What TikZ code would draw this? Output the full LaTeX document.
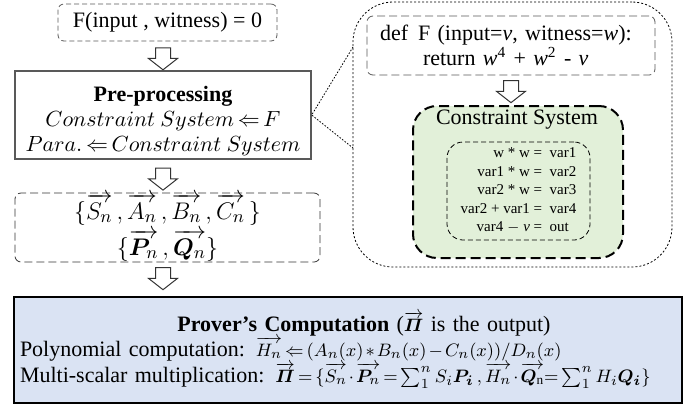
\documentclass[tikz,border=0pt]{standalone}
\usepackage{amsmath,amssymb,bm}
\usepackage{fontspec}
\setmainfont{Liberation Serif}
\usetikzlibrary{shapes.arrows,calc}
\definecolor{boxgray}{HTML}{595959}
\definecolor{csgreen}{HTML}{E2F0D9}
\definecolor{provblue}{HTML}{DAE3F3}
\thickmuskip=3mu plus 1mu
\medmuskip=2mu plus 1mu
\newcommand{\fm}[2][9.5]{{\fontsize{#1}{11}\selectfont$#2$}}
\newcommand{\tightlines}{\lineskiplimit-8pt\relax}

\begin{document}
\begin{tikzpicture}[x=.5pt,y=-.5pt,
  every node/.style={font=\fontsize{11}{12.5}\selectfont},
  dashbox/.style={draw=boxgray,rounded corners=3pt,dash pattern=on 2.5pt off 1.5pt,inner sep=0pt},
  longdash/.style={dash pattern=on 4pt off 2pt},
  hollow/.style={single arrow,draw=black!80,fill=white,shape border rotate=270,inner sep=3.5pt,
    minimum height=11pt,single arrow head extend=3.5pt,single arrow tip angle=104,line width=.5pt}]
\useasboundingbox (0,0) rectangle (697,409);
\node[dashbox,minimum width=109.5pt,minimum height=18.5pt] (fx) at (167.5,22.5) {F(input , witness) = 0};
\node[draw=boxgray,line width=.7pt,minimum width=148pt,minimum height=44pt,align=center,inner sep=0pt] (pre) at (163,115)
  {\rule{0pt}{14pt}\textbf{Pre-processing}\\ \fm[10.5]{Constraint\ System \Leftarrow F}\\ \fm[10.5]{Para.\Leftarrow Constraint\ System}};
\node[dashbox,longdash,draw=black!80,minimum width=152.5pt,minimum height=34.5pt,align=center,
  font={\fontsize{12.5}{15}\selectfont\tightlines}] (vec) at (167.5,227.5)
  {\rule{0pt}{12pt}$\{\overrightarrow{S_n}\,,\overrightarrow{A_n}\,,\overrightarrow{B_n}\,,\overrightarrow{C_n}\,\}$\\[3pt]
   $\{\overrightarrow{\boldsymbol{P}_n}\,,\overrightarrow{\boldsymbol{Q}_n}\}$};
\node[draw,line width=1.2pt,fill=provblue,minimum width=334pt,minimum height=53pt,text width=328pt,align=left,inner sep=3pt,
  font={\fontsize{11}{11.5}\selectfont\tightlines}] (prov) at (348,350)
  {\hfil\hspace{16pt}\textbf{Prover's Computation} (\fm{\overrightarrow{\boldsymbol{\varPi}}} is the output)\\[1pt]
   Polynomial computation: \fm{\overrightarrow{H_n}\Leftarrow (A_n(x)*B_n(x)-C_n(x))/D_n(x)}\\[1.5pt]
   \mbox{Multi-scalar multiplication: \fm{\overrightarrow{\boldsymbol{\varPi}}=\{\overrightarrow{S_n}\cdot\overrightarrow{\boldsymbol{P}_n}=\sum_1^n S_i\boldsymbol{P_i}\,,\overrightarrow{H_n}\cdot\overrightarrow{\boldsymbol{Q}_{\mathrm{n}}}{=}\sum_1^n H_i\boldsymbol{Q_i}\}}}};
\node[hollow] (a1) at ($(pre.north)!.5!(pre.north|-fx.south)$) {};
\node[hollow] (a2) at ($(pre.south)!.5!(pre.south|-vec.north)$) {};
\node[hollow] (a3) at ($(pre.south|-vec.south)!.4!(pre.south|-prov.north)$) {};
\node[draw,dash pattern=on 1pt off 1pt,rounded corners=20pt,minimum width=159.5pt,minimum height=132.5pt] (zoom) at (512.5,134.5) {};
\node[dashbox,longdash,minimum width=144pt,minimum height=29.5pt,text width=131pt,inner xsep=6.5pt,align=left] (def) at (511,45.5)
  {def\hspace{5pt}F (input=\textit{v}, witness=\textit{w}):\\
   \hspace*{21.5pt}return \textit{w}\textsuperscript{4} + \textit{w}\textsuperscript{2} - \textit{v}};
\node[draw,line width=1pt,dash pattern=on 5pt off 2.5pt,fill=csgreen,rounded corners=12pt,minimum width=105pt,minimum height=76pt] (cs) at (518,182) {};
\node (cstitle) at (517,120) {Constraint System};
\node[draw,dash pattern=on 2.5pt off 1.5pt,rounded corners=8pt,minimum width=71.5pt,minimum height=49pt,inner sep=0pt,
  font=\fontsize{7.5}{9.2}\selectfont] (eqs) at (518.5,191)
  {\begin{tabular}{@{}r@{\ =\ \ }l@{}}
   w * w & var1\\ var1 * w & var2\\ var2 * w & var3\\ var2 + var1 & var4\\ var4 $-$ \textit{v} & out
   \end{tabular}};
\node[hollow] (a4) at ($(def.south)!.45!(def.south|-cs.north)$) {};
\coordinate (z1) at (353,47);
\coordinate (z2) at (353,148);
\draw[dash pattern=on .8pt off .8pt,line width=.4pt] (z1) -- (pre.east) -- (z2);
\end{tikzpicture}
\end{document}
